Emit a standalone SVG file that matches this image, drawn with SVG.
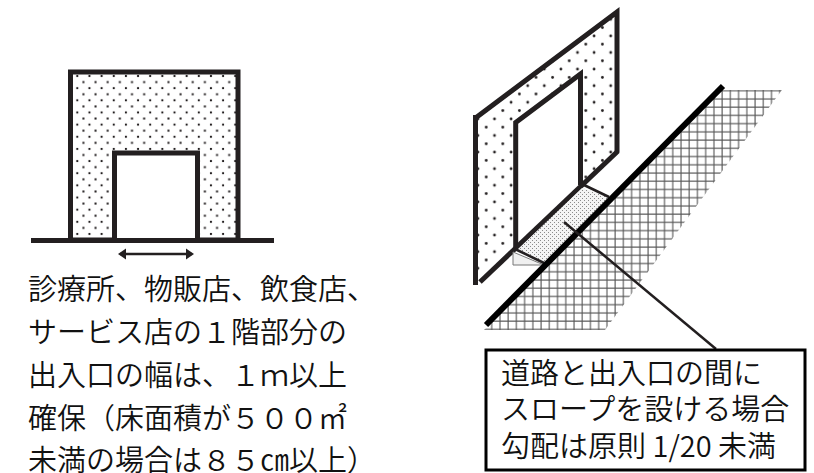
<svg xmlns="http://www.w3.org/2000/svg" width="814" height="473" viewBox="0 0 814 473">
<style>
text{font-family:"Noto Sans CJK JP","Noto Sans",sans-serif;font-size:29px;font-weight:350;fill:#111}
.w{stroke:#231f20;stroke-width:5}
.n{fill:none}
.b{fill:#231f20}
</style>
<defs>
<pattern id="dots" width="12.15" height="12.15" patternUnits="userSpaceOnUse" x="77.3" y="76"><rect x="5.1" y="5.1" width="2" height="2" fill="#231f20"/><rect x="-1" y="-1" width="2" height="2" fill="#231f20"/><rect x="11.15" y="-1" width="2" height="2" fill="#231f20"/><rect x="-1" y="11.15" width="2" height="2" fill="#231f20"/><rect x="11.15" y="11.15" width="2" height="2" fill="#231f20"/></pattern>
<pattern id="rdots" width="16.6" height="16.6" patternUnits="userSpaceOnUse" x="610.7" y="19.3"><circle cx="0" cy="0" r="1.4" fill="#231f20"/><circle cx="16.6" cy="0" r="1.4" fill="#231f20"/><circle cx="0" cy="16.6" r="1.4" fill="#231f20"/><circle cx="16.6" cy="16.6" r="1.4" fill="#231f20"/><circle cx="8.3" cy="8.3" r="1.4" fill="#231f20"/></pattern>
<pattern id="fine" width="4" height="4" patternUnits="userSpaceOnUse"><rect width="4" height="4" fill="#f4f4f4"/><rect x="0" y="0" width="1" height="1" fill="#8a8a8a"/><rect x="2" y="2" width="1" height="1" fill="#8a8a8a"/></pattern>
<pattern id="grid" width="8.23" height="8.23" patternUnits="userSpaceOnUse" x="490.7" y="89.7"><path d="M0 1H8.23M1 0V8.23" fill="none" stroke="#555" stroke-width="1.1"/></pattern>
<marker id="ah" markerWidth="9" markerHeight="12" refX="6" refY="6" orient="auto-start-reverse" markerUnits="userSpaceOnUse"><path d="M0 0.500L8 6L0 11.500Z" fill="#231f20"/></marker>
</defs>
<g id="front-wall">
<rect x="70.500" y="72" width="167.500" height="168" fill="url(#dots)" class="w"/>
<path d="M114.500 240V153H197.500V240" fill="#fff" class="w"/>
</g>
<g id="ground"><rect x="31" y="238" width="243" height="5" class="b"/></g>
<g id="road">
<path d="M484 330L722 90H782L605 330Z" fill="url(#grid)"/>
</g>
<g id="side-wall">
<path d="M476 115.500L617 10V152L476 285Z" fill="url(#rdots)"/>
<path d="M515.500 248V122.500L580.500 73.500V185Z" fill="#fff"/>
<path d="M475.500 118L617 12V152M475.500 115V285M515.700 248V122.500L580.500 74V185" class="w n"/>
<path d="M480 282L618 151" class="w n"/>
</g>
<g id="ramp">
<path d="M516 251L582 188L609 197L544 263Z" fill="url(#fine)"/>
<path d="M513 252V265H544Z" fill="#f0f0f0" stroke="#777" stroke-width="1"/>
<path d="M515 249L544 263M584 185L609 197" fill="none" stroke="#231f20" stroke-width="2.500"/>
</g>
<g id="connectors">
<path d="M486 325L723 86" fill="none" stroke="#000" stroke-width="6"/>
<path d="M564 222L716 349" fill="none" stroke="#231f20" stroke-width="2.500"/>
<path d="M120 254H192" fill="none" stroke="#231f20" stroke-width="2.500" marker-start="url(#ah)" marker-end="url(#ah)"/>
</g>
<g id="caption-left">
<text x="28" y="300">診療所、物販店、飲食店、</text>
<text x="28" y="343">サービス店の１階部分の</text>
<text x="28" y="386">出入口の幅は、１ｍ以上</text>
<text x="28" y="429">確保（床面積が５００㎡</text>
<text x="28" y="470.500">未満の場合は８５㎝以上）</text>
</g>
<g id="note">
<rect x="486" y="350" width="319" height="120" fill="#fff" stroke="#000" stroke-width="3"/>
<text x="501" y="384">道路と出入口の間に</text>
<text x="501" y="420">スロープを設ける場合</text>
<text x="501" y="457">勾配は原則 1/20 未満</text>
</g>
</svg>
